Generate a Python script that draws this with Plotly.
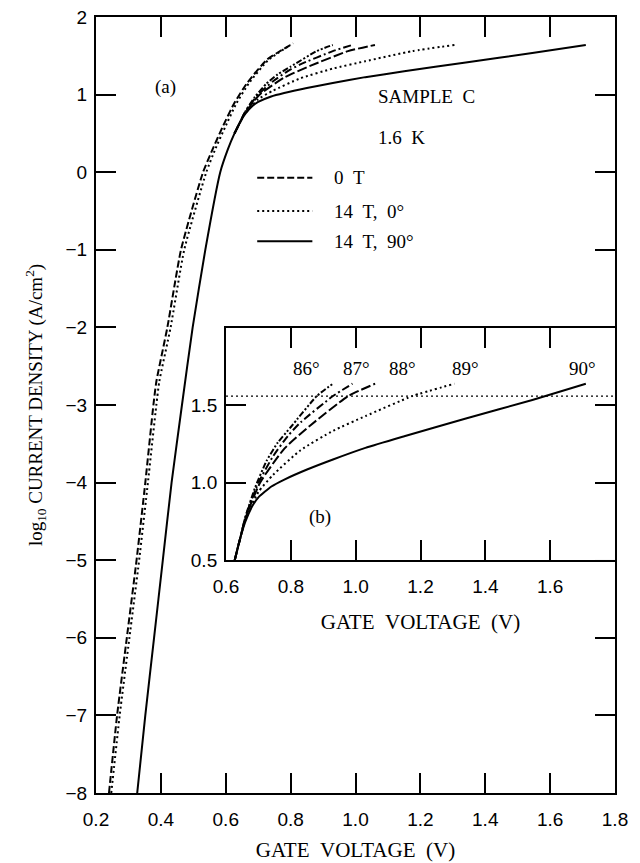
import plotly.graph_objects as go

# ---- data ----
# main panel (a)
x_0T = [0.24, 0.265, 0.295, 0.325, 0.352, 0.377, 0.386, 0.42, 0.462, 0.53, 0.56, 0.59, 0.625, 0.666, 0.727, 0.808]
y_0T = [-8.0, -7.0, -6.0, -5.0, -4.0, -3.0, -2.7, -2.0, -1.0, 0.0, 0.3, 0.58, 0.88, 1.15, 1.45, 1.66]

x_14T0 = [0.247, 0.273, 0.303, 0.333, 0.36, 0.386, 0.395, 0.43, 0.472, 0.54, 0.568, 0.598, 0.632, 0.672, 0.732, 0.80]
y_14T0 = [-8.0, -7.0, -6.0, -5.0, -4.0, -3.0, -2.7, -2.0, -1.0, 0.0, 0.3, 0.58, 0.88, 1.15, 1.45, 1.64]

x_14T90 = [0.327, 0.352, 0.379, 0.406, 0.433, 0.465, 0.498, 0.537, 0.583, 0.607, 0.627, 0.645, 0.66, 0.683, 0.70, 0.74,
           0.78, 0.85, 0.93, 1.03, 1.15, 1.34, 1.545, 1.71]
y_14T90 = [-8.0, -7.0, -6.0, -5.0, -4.0, -3.0, -2.0, -1.0, 0.0, 0.3, 0.5, 0.65, 0.75, 0.855, 0.905, 0.975,
           1.02, 1.085, 1.15, 1.225, 1.30, 1.415, 1.535, 1.64]

# angle series (panel b, also drawn at top of panel a)
x_86 = [0.627, 0.645, 0.66, 0.69, 0.725, 0.76, 0.80, 0.88, 0.93]
y_86 = [0.5, 0.65, 0.78, 0.97, 1.14, 1.26, 1.36, 1.56, 1.64]
x_87 = [0.627, 0.645, 0.66, 0.70, 0.745, 0.79, 0.83, 0.93, 0.99]
y_87 = [0.5, 0.65, 0.78, 1.0, 1.17, 1.30, 1.39, 1.56, 1.64]
x_88 = [0.627, 0.645, 0.66, 0.705, 0.78, 0.86, 0.977, 1.06]
y_88 = [0.5, 0.65, 0.77, 1.0, 1.22, 1.37, 1.56, 1.64]
x_89 = [0.627, 0.645, 0.66, 0.70, 0.745, 0.83, 0.93, 1.03, 1.175, 1.305]
y_89 = [0.5, 0.65, 0.76, 0.94, 1.05, 1.21, 1.335, 1.43, 1.56, 1.64]

ref_level = 1.56
angle_labels = ["86°", "87°", "88°", "89°", "90°"]
angle_label_x = [0.849, 1.003, 1.145, 1.338, 1.70]
angle_label_y = 1.74

legend_labels = ["0&nbsp;&nbsp;T", "14&nbsp;&nbsp;T,&nbsp;&nbsp;0°", "14&nbsp;&nbsp;T,&nbsp;&nbsp;90°"]

SERIF = "Liberation Serif"
SANS = "Liberation Sans"

fig = go.Figure()

styles = {
    "0T": dict(color="black", width=2, dash="7px,3px"),
    "dot": dict(color="black", width=2, dash="2px,3px"),
    "solid": dict(color="black", width=2),
    "86": dict(color="black", width=2, dash="6px,2px,2px,2px,2px,2px"),
    "87": dict(color="black", width=2, dash="8px,3px,2px,3px"),
    "88": dict(color="black", width=2, dash="10px,3px"),
}

def add(x, y, style, ax="x", ay="y"):
    fig.add_trace(go.Scatter(x=x, y=y, mode="lines", line=dict(shape="spline", smoothing=0.5, **style),
                             xaxis=ax, yaxis=ay, showlegend=False, hoverinfo="skip"))

# main panel
add(x_0T, y_0T, styles["0T"])
add(x_14T0, y_14T0, styles["dot"])
add(x_86, y_86, styles["86"])
add(x_87, y_87, styles["87"])
add(x_88, y_88, styles["88"])
add(x_89, y_89, styles["dot"])
add(x_14T90, y_14T90, styles["solid"])

# inset
add(x_86, y_86, styles["86"], "x2", "y2")
add(x_87, y_87, styles["87"], "x2", "y2")
add(x_88, y_88, styles["88"], "x2", "y2")
add(x_89, y_89, styles["dot"], "x2", "y2")
add(x_14T90, y_14T90, styles["solid"], "x2", "y2")
fig.add_trace(go.Scatter(x=[0.6, 1.8], y=[ref_level, ref_level], mode="lines",
                         line=dict(color="black", width=1.3, dash="2px,3px"),
                         xaxis="x2", yaxis="y2", showlegend=False, hoverinfo="skip"))

tickfont = dict(family=SANS, size=19, color="black")
axcommon = dict(showline=True, linecolor="black", linewidth=2, mirror="ticks", ticks="inside",
                ticklen=20, tickwidth=2, tickcolor="black", showgrid=False, zeroline=False,
                tickfont=tickfont, automargin=False)

xtitle = "GATE&nbsp;&nbsp;VOLTAGE&nbsp;&nbsp;(V)"
tfont = dict(family=SERIF, size=21, color="black")

fig.update_layout(
    width=640, height=863,
    margin=dict(l=96, r=25, t=17, b=70),
    paper_bgcolor="white", plot_bgcolor="white",
    xaxis=dict(range=[0.2, 1.8], domain=[0, 1], tickvals=[0.2, 0.4, 0.6, 0.8, 1.0, 1.2, 1.4, 1.6, 1.8],
               tickformat=".1f", anchor="y", ticklabelstandoff=8,
               title=dict(text=xtitle, font=tfont, standoff=14),
               **axcommon),
    yaxis=dict(range=[-8, 2], domain=[0, 1], tickvals=list(range(-8, 3)), anchor="x", ticklabelstandoff=3,
               title=dict(text="log<sub>10</sub> CURRENT DENSITY (A/cm<sup>2</sup>)",
                          font=dict(family=SERIF, size=19, color="black"), standoff=18),
               **axcommon),
    xaxis2=dict(range=[0.6, 1.8], domain=[0.2505, 1.0], tickvals=[0.6, 0.8, 1.0, 1.2, 1.4, 1.6],
                tickformat=".1f", anchor="y2", ticklabelstandoff=8,
                title=dict(text=xtitle, font=tfont, standoff=19),
                **axcommon),
    yaxis2=dict(range=[0.5, 2.0], domain=[0.3003, 0.5992], tickvals=[0.5, 1.0, 1.5], tickformat=".1f",
                anchor="x2", ticklabelstandoff=3, **axcommon),
)

ann_font = dict(family=SERIF, size=19, color="black")
annotations = [
    dict(x=0.413, y=1.10, xref="x", yref="y", text="(a)", showarrow=False, font=ann_font),
    dict(x=1.064, y=0.97, xref="x", yref="y", text="SAMPLE&nbsp;&nbsp;C", showarrow=False, font=ann_font, xanchor="left"),
    dict(x=1.064, y=0.45, xref="x", yref="y", text="1.6&nbsp;&nbsp;K", showarrow=False, font=ann_font, xanchor="left"),
    dict(x=0.89, y=0.78, xref="x2", yref="y2", text="(b)", showarrow=False, font=ann_font),
]
for t, xx in zip(angle_labels, angle_label_x):
    annotations.append(dict(x=xx, y=angle_label_y, xref="x2", yref="y2", text=t, showarrow=False, font=ann_font))

legend_y = [-0.07, -0.50, -0.89]
legend_dash = ["7px,3px", "2px,3px", "solid"]
shapes = []
for lab, ly, dsh in zip(legend_labels, legend_y, legend_dash):
    shapes.append(dict(type="line", xref="x", yref="y", x0=0.697, x1=0.867, y0=ly, y1=ly,
                       line=dict(color="black", width=2, dash=dsh)))
    annotations.append(dict(x=0.928, y=ly, xref="x", yref="y", text=lab, showarrow=False,
                            font=ann_font, xanchor="left"))

fig.update_layout(annotations=annotations, shapes=shapes)

fig.write_html("out.html")
